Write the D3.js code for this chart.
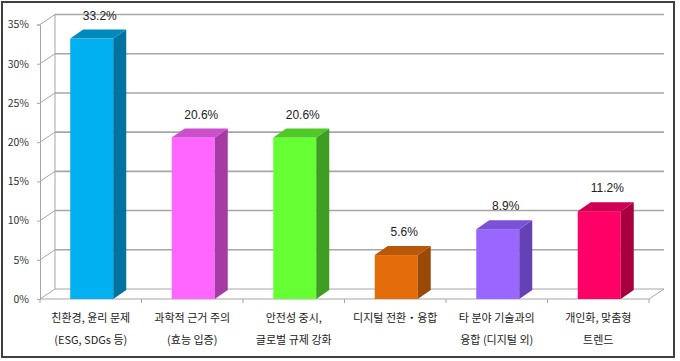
<!DOCTYPE html>
<html>
<head>
<meta charset="utf-8">
<script src="https://cdn.jsdelivr.net/npm/d3@7"></script>
<style>
  body { margin: 0; background: #fff; }
  svg { display: block; }
</style>
</head>
<body>
<svg id="chart" width="680" height="361"></svg>
<script>
// data
var categories = ["친환경, 윤리 문제", "과학적 근거 주의", "안전성 중시,", "디지털 전환・융합", "타 분야 기술과의", "개인화, 맞춤형"];
var subLabels = ["(ESG, SDGs 등)", "(효능 입증)", "글로벌 규제 강화", "", "융합 (디지털 외)", "트렌드"];
var values = [33.2, 20.6, 20.6, 5.6, 8.9, 11.2];
var yTicks = [0, 5, 10, 15, 20, 25, 30, 35];

// bar colours: front, side, top
var frontColors = ["#00b0f0", "#ff66ff", "#66ff33", "#e36c0a", "#9966ff", "#ff0066"];
var sideColors  = ["#00739e", "#a43ca4", "#3f9e21", "#9a4907", "#6441b4", "#a8003f"];
var topColors   = ["#0089bd", "#cc4fcc", "#4fc828", "#b85808", "#7a52d8", "#cf0052"];

var svg = d3.select("#chart");

var left = 40, right = 649, floorY = 299, topY = 24.5;
var wallDx = 15, wallDy = -10;   // depth of back wall
var barDx = 13, barDy = -9;      // depth of each bar
var barW = 43;

var x = d3.scaleBand().domain(categories).range([left, right]);
var y = d3.scaleLinear().domain([0, 35]).range([floorY, topY]);

var gridColor = "#a6a6a6";

// outer frame
svg.append("rect")
    .attr("x", 2).attr("y", 2)
    .attr("width", 672).attr("height", 355)
    .attr("fill", "none")
    .attr("stroke", "#404040")
    .attr("stroke-width", 2);

// back wall gridlines
var grid = svg.append("g");
grid.selectAll("line.h").data(yTicks).enter().append("line")
    .attr("class", "h")
    .attr("x1", left + wallDx).attr("x2", right + wallDx)
    .attr("y1", function(d) { return y(d) + wallDy; })
    .attr("y2", function(d) { return y(d) + wallDy; })
    .attr("stroke", gridColor)
    .attr("stroke-width", function(d) { return d == 0 ? 1 : 1.6; });

// slanted lines from front axis to wall
grid.selectAll("line.s").data(yTicks).enter().append("line")
    .attr("class", "s")
    .attr("x1", left).attr("x2", left + wallDx)
    .attr("y1", function(d) { return y(d); })
    .attr("y2", function(d) { return y(d) + wallDy; })
    .attr("stroke", gridColor)
    .attr("stroke-width", 1);

// wall left edge
grid.append("line")
    .attr("x1", left + wallDx).attr("x2", left + wallDx)
    .attr("y1", y(35) + wallDy).attr("y2", y(0) + wallDy)
    .attr("stroke", gridColor).attr("stroke-width", 1);

// floor: front edge + right edge
grid.append("path")
    .attr("d", "M" + left + "," + floorY + "L" + right + "," + floorY + "L" + (right + wallDx) + "," + (floorY + wallDy))
    .attr("fill", "none")
    .attr("stroke", gridColor).attr("stroke-width", 1);

// y axis
var yAxis = d3.axisLeft(y)
    .tickValues(yTicks)
    .tickSize(3)
    .tickPadding(8)
    .tickFormat(function(d) { return d + "%"; });

var ya = svg.append("g")
    .attr("transform", "translate(" + left + ",0)")
    .call(yAxis);
ya.select(".domain").attr("stroke", gridColor);
ya.selectAll(".tick line").attr("stroke", gridColor);
ya.selectAll(".tick text")
    .attr("fill", "#333")
    .style("font-family", "'Noto Sans CJK KR', 'Noto Sans', sans-serif")
    .style("font-size", "10.5px");

// x ticks at category boundaries
var bounds = categories.map(function(c) { return x(c); }).concat([right]);
svg.append("g").selectAll("line").data(bounds).enter().append("line")
    .attr("x1", function(d) { return d; }).attr("x2", function(d) { return d; })
    .attr("y1", floorY).attr("y2", floorY + 4)
    .attr("stroke", gridColor);

// bars
var bars = svg.append("g").selectAll("g").data(values).enter().append("g");

function bx0(d, i) { return x(categories[i]) + (x.bandwidth() - barW) / 2 + 1; }

bars.append("rect")
    .attr("x", function(d, i) { return bx0(d, i); })
    .attr("y", function(d) { return y(d); })
    .attr("width", barW)
    .attr("height", function(d) { return floorY - y(d); })
    .attr("fill", function(d, i) { return frontColors[i]; });

bars.append("path")
    .attr("d", function(d, i) {
        var x1 = bx0(d, i) + barW, yt = y(d);
        return "M" + x1 + "," + yt + "L" + (x1 + barDx) + "," + (yt + barDy) +
               "L" + (x1 + barDx) + "," + (floorY + barDy) + "L" + x1 + "," + floorY + "Z";
    })
    .attr("fill", function(d, i) { return sideColors[i]; });

bars.append("path")
    .attr("d", function(d, i) {
        var x0 = bx0(d, i), x1 = x0 + barW, yt = y(d);
        return "M" + x0 + "," + yt + "L" + (x0 + barDx) + "," + (yt + barDy) +
               "L" + (x1 + barDx) + "," + (yt + barDy) + "L" + x1 + "," + yt + "Z";
    })
    .attr("fill", function(d, i) { return topColors[i]; });

// value labels
bars.append("text")
    .attr("x", function(d, i) { return bx0(d, i) + barW / 2 + 8; })
    .attr("y", function(d) { return y(d) + barDy - 14; })
    .attr("dy", "0.35em")
    .attr("text-anchor", "middle")
    .attr("fill", "#222")
    .style("font-family", "'Liberation Sans', Arial, sans-serif")
    .style("font-size", "12px")
    .text(function(d) { return d.toFixed(1) + "%"; });

// category labels
var cl = svg.append("g").selectAll("text").data(categories).enter().append("text")
    .attr("text-anchor", "middle")
    .attr("fill", "#222")
    .style("font-family", "'Noto Sans CJK KR', sans-serif")
    .style("font-size", "11px");
cl.append("tspan")
    .attr("x", function(d) { return x(d) + x.bandwidth() / 2; })
    .attr("y", 322)
    .text(function(d) { return d; });
cl.append("tspan")
    .attr("x", function(d) { return x(d) + x.bandwidth() / 2; })
    .attr("y", 344)
    .text(function(d, i) { return subLabels[i]; });
</script>
</body>
</html>
